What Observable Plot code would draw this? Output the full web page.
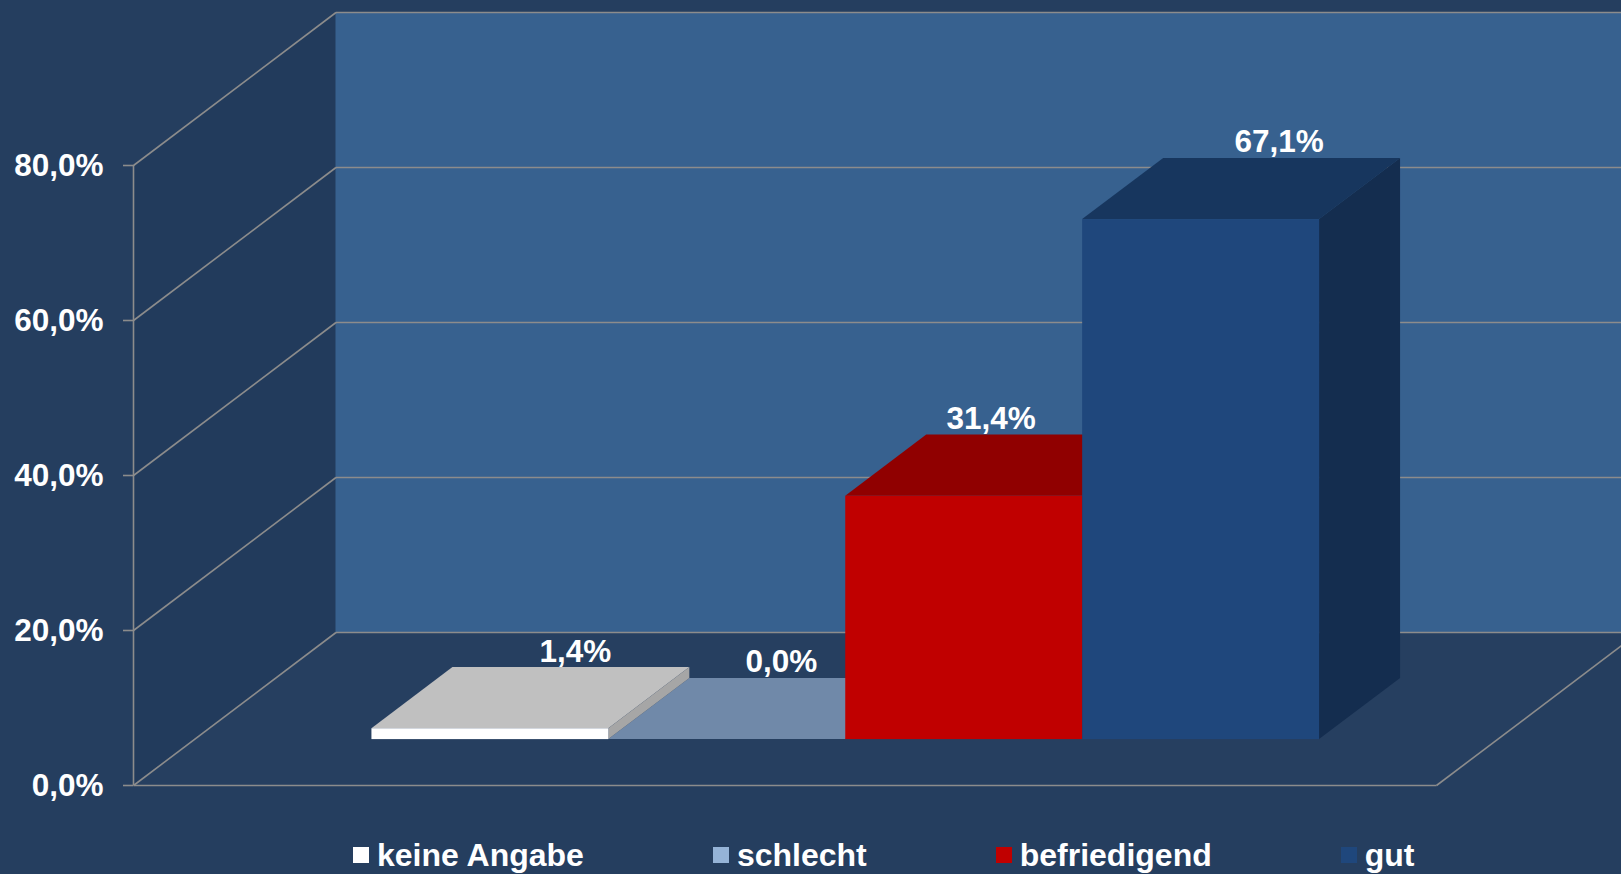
<!DOCTYPE html>
<html>
<head>
<meta charset="utf-8">
<script src="https://cdn.jsdelivr.net/npm/d3@7"></script>
<script src="https://cdn.jsdelivr.net/npm/@observablehq/plot@0.6"></script>
<style>
  html, body { margin: 0; padding: 0; background: #253e5f; }
  body { width: 1621px; height: 874px; overflow: hidden; font-family: "Liberation Sans", Arial, sans-serif; }
  #chart svg text { font-family: "Liberation Sans", Arial, sans-serif; }
  #legend { height: 54px; box-sizing: border-box; padding-top: 16px; padding-left: 353px; display: flex; gap: 129px; }
  .item { display: flex; align-items: center; color: #fff; font-weight: bold; font-size: 32px; line-height: 32px; white-space: nowrap; }
  .sw { width: 16px; height: 16px; margin-right: 8px; }
</style>
</head>
<body>
<div id="chart"></div>
<div id="legend"></div>
<script>
// ---- data ----
const categories = ["keine Angabe", "schlecht", "befriedigend", "gut"];
const values = [1.4, 0.0, 31.4, 67.1];
const yTicks = [0, 20, 40, 60, 80];

// ---- styles ----
const frontColors = ["#ffffff", "#95b3d7", "#c00000", "#1f477c"];
const topColors = ["#c0c0c0", "#7089a9", "#900000", "#17365e"];
const sideColors = ["#a6a6a6", "#5f7590", "#7a0000", "#142d4f"];
const legendColors = ["#ffffff", "#95b3d7", "#c00000", "#1f477c"];
const labelShiftPx = [4, -27, -54, -3];

// ---- layout ----
const W = 1621, H = 820;
const mL = 133, mR = 185, mT = 165, mB = 35;
const XMAX = 5.5;                       // 4 bars + gap (bar units)
const XU = (W - mL - mR) / XMAX;        // px per bar unit
const YU = (H - mT - mB) / 80;          // px per percent
const DX = 202.5 / XU;                  // depth offset in x units
const DY = 153 / YU;                    // depth offset in y units
const D0 = 0.3, D1 = 0.7;               // bar depth range
const HALFGAP = 0.75;
const fmt = v => v.toFixed(1).replace(".", ",") + "%";
const grid = "#8c8c8c";

const bars = categories.map((c, i) => ({c, i, v: values[i], u0: HALFGAP + i, u1: HALFGAP + i + 1}));

const topPts = bars.flatMap(b => [D0, D1].map(d => ({i: b.i, y: b.v + d * DY, x1: b.u0 + d * DX, x2: b.u1 + d * DX})));
const sidePts = bars.flatMap(b => [D0, D1].map(d => ({i: b.i, x: b.u1 + d * DX, y1: d * DY, y2: b.v + d * DY})));

const font = {fontFamily: "Liberation Sans, Arial, sans-serif", fontWeight: "bold", fontSize: 31.5};

const chart = Plot.plot({
  width: W, height: H,
  marginLeft: mL, marginRight: mR, marginTop: mT, marginBottom: mB,
  style: {background: "transparent", overflow: "hidden"},
  x: {domain: [0, XMAX], axis: null},
  y: {domain: [0, 80], axis: null},
  color: {type: "identity"},
  marks: [
    // left wall
    Plot.areaY([{x: 0, y1: 0, y2: 80}, {x: DX, y1: DY, y2: 80 + DY}], {x: "x", y1: "y1", y2: "y2", fill: "#223b5c"}),
    // back wall
    Plot.rect([0], {x1: DX, x2: XMAX + DX + 1, y1: DY, y2: 80 + DY, fill: "#37618f"}),
    // floor
    Plot.areaX([{y: 0, x1: 0, x2: XMAX}, {y: DY, x1: DX, x2: XMAX + DX}], {y: "y", x1: "x1", x2: "x2", fill: "#263f60"}),
    // gridlines: left wall diagonals and back wall horizontals
    Plot.link(yTicks, {x1: 0, y1: t => t, x2: DX, y2: t => t + DY, stroke: grid, strokeWidth: 1.6}),
    Plot.link(yTicks, {x1: DX, y1: t => t + DY, x2: XMAX + DX + 1, y2: t => t + DY, stroke: grid, strokeWidth: 1.6}),
    // floor edges
    Plot.link([0], {x1: 0, y1: 0, x2: XMAX, y2: 0, stroke: grid, strokeWidth: 1.6}),
    Plot.link([0], {x1: XMAX, y1: 0, x2: XMAX + DX, y2: DY, stroke: grid, strokeWidth: 1.6}),
    // vertical axis line
    Plot.ruleX([0], {y1: 0, y2: 80, stroke: grid, strokeWidth: 1.6}),
    Plot.axisY({ticks: yTicks, tickSize: 10, tickPadding: 20, tickFormat: fmt, stroke: grid, strokeWidth: 1.6, fill: "white", label: null, ...font}),
    // bars: tops, sides, fronts
    Plot.areaX(topPts, {y: "y", x1: "x1", x2: "x2", z: "i", fill: d => topColors[d.i]}),
    Plot.areaY(sidePts, {x: "x", y1: "y1", y2: "y2", z: "i", fill: d => sideColors[d.i]}),
    Plot.rect(bars, {x1: b => b.u0 + D0 * DX, x2: b => b.u1 + D0 * DX, y1: D0 * DY, y2: b => b.v + D0 * DY, fill: b => frontColors[b.i]}),
    // value labels
    Plot.text(bars, {
      x: b => (b.u0 + b.u1) / 2 + D1 * DX + labelShiftPx[b.i] / XU,
      y: b => b.v + D1 * DY,
      text: b => fmt(b.v),
      lineAnchor: "bottom", dy: -6, fill: "white", ...font
    })
  ]
});
document.getElementById("chart").appendChild(chart);

const legend = document.getElementById("legend");
categories.forEach((c, i) => {
  const item = document.createElement("div");
  item.className = "item";
  const sw = document.createElement("span");
  sw.className = "sw";
  sw.style.background = legendColors[i];
  const t = document.createElement("span");
  t.textContent = c;
  item.appendChild(sw);
  item.appendChild(t);
  legend.appendChild(item);
});
</script>
</body>
</html>
